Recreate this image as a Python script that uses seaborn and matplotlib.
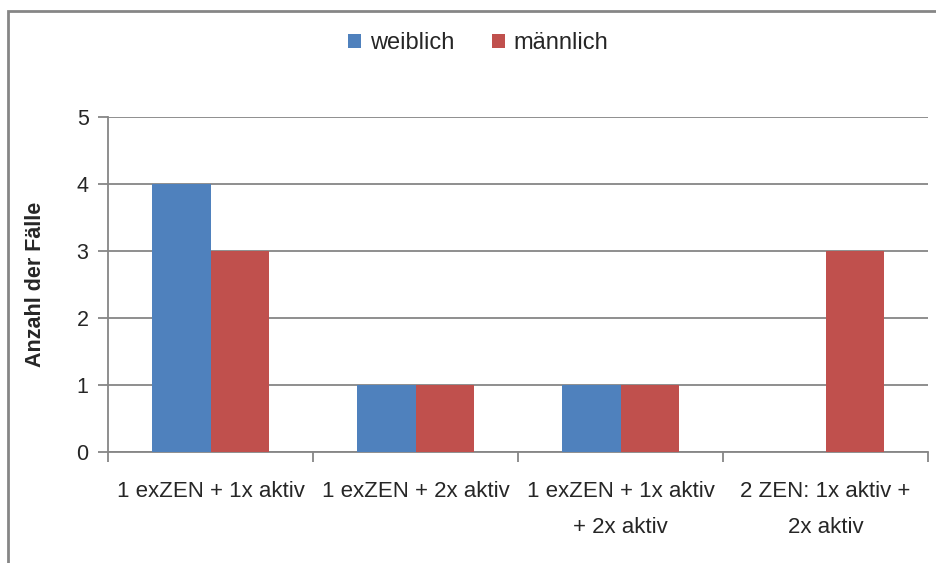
import matplotlib
matplotlib.use("Agg")
import matplotlib.pyplot as plt
import seaborn as sns
import pandas as pd
from matplotlib.patches import Rectangle
from matplotlib.ticker import FixedLocator

categories = ["1 exZEN + 1x aktiv", "1 exZEN + 2x aktiv",
              "1 exZEN + 1x aktiv\n+ 2x aktiv", "2 ZEN: 1x aktiv +\n2x aktiv"]
weiblich = [4, 1, 1, 0]
maennlich = [3, 1, 1, 3]
series_names = ["weiblich", "männlich"]
y_ticks = [0, 1, 2, 3, 4, 5]

df = pd.DataFrame({
    "Kategorie": categories * 2,
    "Geschlecht": [series_names[0]] * 4 + [series_names[1]] * 4,
    "Anzahl": weiblich + maennlich,
})

sns.set_theme(style="white")
plt.rcParams['font.family'] = ['Liberation Sans Narrow', 'Liberation Sans', 'DejaVu Sans']

fig = plt.figure(figsize=(9.36, 5.63), dpi=100)
ax = fig.add_axes([108/936, 1-452/563, (928-108)/936, (452-117)/563])

grid_c = "#868686"
sns.barplot(data=df, x="Kategorie", y="Anzahl", hue="Geschlecht",
            palette=["#4F81BD", "#C0504D"], width=0.575, dodge=True,
            saturation=1, ax=ax, legend=True, zorder=3, linewidth=0,
            edgecolor="none")

ax.set_ylim(0, 5)
ax.set_xlim(-0.5, 3.5)
ax.set_yticks(y_ticks)
ax.yaxis.grid(True, color=grid_c, linewidth=1.3, zorder=0)
ax.set_axisbelow(True)
for s in ["top", "right"]:
    ax.spines[s].set_visible(False)
for s in ["left", "bottom"]:
    ax.spines[s].set_color(grid_c)
    ax.spines[s].set_linewidth(1.3)

ax.tick_params(axis="y", which="major", length=7, width=1.3, color=grid_c,
               labelsize=15.5, pad=7, left=True)
ax.tick_params(axis="x", which="major", length=0, labelsize=16, pad=21)
ax.xaxis.set_minor_locator(FixedLocator([-0.5, 0.5, 1.5, 2.5, 3.5]))
ax.tick_params(axis="x", which="minor", length=7, width=1.3, color=grid_c, bottom=True)
for lbl in ax.get_xticklabels():
    lbl.set_linespacing(1.9)
    lbl.set_verticalalignment("top")

ax.set_xlabel("")
ax.set_ylabel("Anzahl der Fälle", fontsize=15.5, fontweight="bold", labelpad=22)

leg = ax.legend(loc="center", bbox_to_anchor=(478/936, 1-43/563),
                bbox_transform=fig.transFigure, ncol=2, frameon=False,
                fontsize=17, handlelength=0.55, handleheight=0.55,
                handletextpad=0.35, columnspacing=1.6)

fig.patches.append(Rectangle((8/936, -0.1), 1.2, 1 - 11/563 + 0.1,
                             transform=fig.transFigure, fill=False,
                             edgecolor=grid_c, linewidth=2, zorder=0))

fig.savefig("out.png", dpi=100)
